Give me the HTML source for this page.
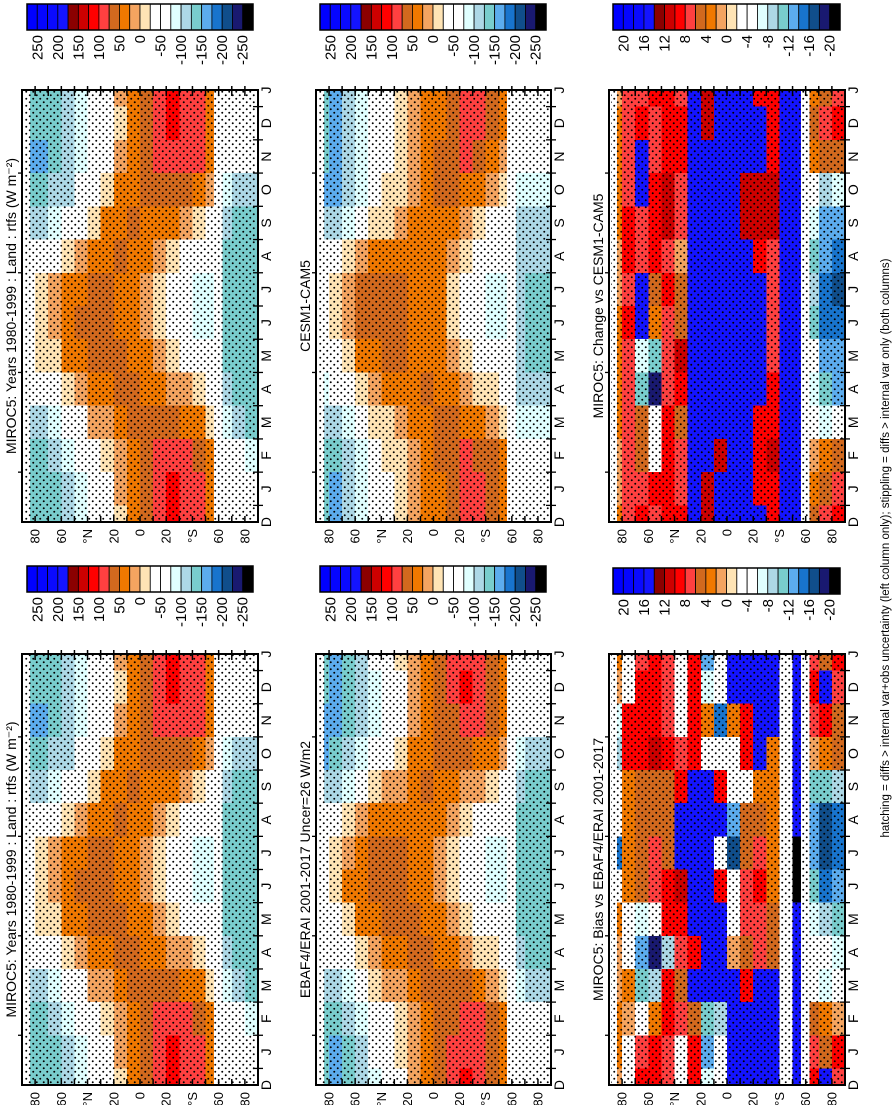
<!DOCTYPE html>
<html>
<head>
<meta charset="utf-8">
<style>
  html, body { margin:0; padding:0; background:#fff; }
  #page { position:relative; width:895px; height:1105px; overflow:hidden; background:#fff; }
  #fig { position:absolute; left:0; top:0; transform-origin:0 0; transform:translateY(1105px) rotate(-90deg); }
  text { font-family:"Liberation Sans", Arial, sans-serif; fill:#000; }
</style>
</head>
<body>
<div id="page">
<svg id="fig" width="1105" height="895" viewBox="0 0 1105 895" xmlns="http://www.w3.org/2000/svg">
  <defs>
    <pattern id="stip" width="7" height="7" patternUnits="userSpaceOnUse">
      <circle cx="1.75" cy="1.75" r="0.95" fill="#000"/>
      <circle cx="5.25" cy="5.25" r="0.95" fill="#000"/>
    </pattern>
  </defs>
  <g id="root"></g>
  <text x="557" y="889" font-size="11.5" text-anchor="middle">hatching = diffs &gt; internal var+obs uncertainty (left column only); stippling = diffs &gt; internal var only (both columns)</text>
</svg>
</div>
<script>
// ---- data ----
const monthLabels = ['D','J','F','M','A','M','J','J','A','S','O','N','D','J'];
const latEdges = [90,84,80,70,60,50,40,30,20,10,0,-10,-20,-30,-40,-50,-56,-63,-70,-80,-90];
const latTickValues = [80,60,40,20,0,-20,-40,-60,-80];
const latTickLabels = ['80','60','°N','20','0','20','°S','60','80'];
const fluxBarLabels = ['250','200','150','100','50','0','-50','-100','-150','-200','-250'];
const diffBarLabels = ['20','16','12','8','4','0','-4','-8','-12','-16','-20'];

// rows: J..D ; columns: lat bins per latEdges (null = no land)
const mirocValues = [
[null,-140,-140,-130,-110,-85,-50,-30,10,30,60,90,110,100,85,50,null,-40,-40,-40],
[null,-140,-140,-110,-85,-50,-30,-10,20,40,60,90,90,85,60,30,null,-60,-60,-85],
[null,-110,-110,-85,-50,-30,10,20,40,60,60,60,60,50,30,0,null,-85,-110,-130],
[null,-60,-60,-40,0,20,40,50,60,60,50,30,20,10,-10,-30,null,-110,-140,-140],
[null,-30,-20,0,30,50,60,60,60,50,30,10,-10,-30,-40,-60,null,-130,-140,-140],
[null,-30,0,20,40,60,60,60,50,40,20,0,-40,-60,-80,-80,null,-140,-140,-140],
[null,-40,-10,10,30,50,60,60,50,40,20,0,-30,-50,-80,-80,null,-140,-140,-140],
[null,-60,-50,-30,0,20,40,50,60,50,30,10,0,-30,-40,-60,null,-130,-140,-140],
[null,-100,-100,-85,-50,-30,0,30,50,60,50,40,30,10,0,-30,null,-110,-130,-140],
[null,-140,-140,-120,-100,-60,-30,0,30,50,60,60,60,60,40,10,null,-85,-100,-110],
[null,-150,-160,-130,-110,-85,-50,-30,10,40,60,85,90,90,80,40,null,-50,-60,-60],
[null,-140,-140,-130,-110,-90,-50,-40,0,30,60,90,110,100,85,50,null,-40,-40,-40]
];
const cesmValues = [
[null,-130,-160,-120,-90,-50,-30,-10,10,30,50,70,90,80,60,40,null,-30,-30,-30],
[null,-130,-140,-110,-80,-45,-20,0,20,40,55,65,85,70,55,30,null,-40,-40,-40],
[null,-110,-110,-90,-50,-20,0,10,30,50,55,55,50,40,20,0,null,-85,-90,-90],
[null,-80,-60,-40,-10,10,30,40,45,55,50,30,15,0,-20,-30,null,-110,-110,-110],
[null,-45,-30,0,30,40,55,55,50,50,40,10,-20,-40,-60,-60,null,-120,-130,-130],
[null,-40,-20,20,60,60,60,55,45,45,30,0,-40,-60,-90,-85,null,-110,-130,-130],
[null,-45,-20,20,60,60,60,55,45,45,30,0,-30,-60,-90,-85,null,-110,-130,-130],
[null,-60,-50,-20,10,30,40,45,45,50,35,10,-10,-40,-60,-60,null,-110,-120,-120],
[null,-110,-110,-80,-40,-20,0,20,40,50,50,30,10,0,-30,-40,null,-100,-110,-110],
[null,-160,-150,-110,-80,-50,-20,0,20,50,55,55,50,40,20,0,null,-85,-90,-90],
[null,-140,-160,-120,-90,-60,-40,-20,10,40,55,65,80,60,40,20,null,-40,-50,-50],
[null,-130,-160,-120,-90,-50,-30,-15,10,30,50,70,90,80,60,40,null,-30,-30,-30]
];
const ebafValues = [
[null,-140,-150,-130,-100,-70,-40,-20,10,30,55,80,100,90,70,40,null,-30,-40,-40],
[null,-140,-140,-110,-85,-50,-25,-5,20,45,60,70,90,80,55,30,null,-50,-50,-60],
[null,-110,-110,-85,-50,-20,5,20,40,55,60,55,55,40,20,0,null,-85,-100,-110],
[null,-70,-60,-40,-5,20,40,45,55,55,50,30,15,0,-20,-30,null,-110,-130,-130],
[null,-40,-25,0,30,50,60,60,55,50,35,10,-20,-40,-50,-60,null,-130,-140,-140],
[null,-30,0,30,50,60,65,60,50,45,25,0,-40,-60,-80,-80,null,-140,-140,-140],
[null,-40,-10,20,50,60,65,60,50,45,25,0,-30,-50,-80,-80,null,-140,-140,-140],
[null,-60,-50,-20,10,30,45,50,50,50,30,10,-5,-30,-50,-60,null,-130,-140,-140],
[null,-110,-110,-80,-45,-20,5,25,45,55,50,35,20,5,-20,-40,null,-110,-130,-130],
[null,-150,-140,-120,-90,-55,-25,0,30,50,60,60,55,50,30,10,null,-85,-100,-110],
[null,-150,-150,-130,-100,-75,-45,-25,10,40,60,75,90,80,60,30,null,-50,-60,-60],
[null,-140,-150,-130,-100,-80,-45,-30,5,30,60,85,105,95,70,40,null,-30,-40,-40]
];
const changeValues = [
[null,2,8,8,10,10,8,16,12,16,16,16,10,10,16,16,null,4,6,8],
[null,2,8,6,-3,10,8,16,16,12,16,16,10,12,16,16,null,2,4,6],
[null,3,8,6,-4,10,6,16,16,16,16,16,10,10,16,16,null,-2,-6,-4],
[null,3,8,-10,-18,8,10,16,16,16,16,16,16,10,16,16,null,-6,-10,-12],
[null,4,8,-6,-10,8,12,16,16,16,16,16,16,8,16,16,null,-4,-12,-12],
[null,4,10,16,4,8,6,16,16,16,16,16,16,8,16,16,null,-10,-14,-14],
[null,2,8,16,6,10,6,16,16,16,16,16,16,8,16,16,null,-8,-14,-16],
[null,2,10,8,10,8,2,16,16,16,16,16,10,8,16,16,null,-10,-12,-14],
[null,3,10,8,10,12,8,16,16,16,16,12,12,12,16,16,null,-6,-12,-12],
[null,3,8,16,10,12,8,16,16,16,16,12,12,12,16,16,null,-4,-8,-6],
[null,4,8,16,8,10,10,16,16,16,16,16,16,10,16,16,null,4,6,6],
[null,3,8,10,8,10,10,16,12,16,16,16,16,10,16,16,null,6,8,10]
];
const biasValues = [
[null,4,-4,8,10,8,-3,10,-12,-3,16,16,16,16,-3,16,null,8,6,10],
[null,4,2,-3,4,10,8,6,-10,-8,16,16,16,16,-3,16,null,6,4,2],
[null,2,4,-10,-8,10,6,16,16,16,16,10,16,16,-3,16,null,-4,-6,-4],
[null,2,-3,-12,-18,-8,8,10,16,16,2,6,8,6,-3,16,null,-4,-3,-6],
[null,4,-3,-6,-3,10,10,16,16,16,-3,8,8,6,-3,16,null,-6,-8,-10],
[null,-3,4,6,8,10,12,16,16,10,-3,8,10,4,-3,-20,null,-10,-14,-12],
[null,-14,4,6,8,6,16,16,16,-3,-16,6,8,4,-3,-20,null,-12,-16,-14],
[null,-3,4,6,6,6,16,16,16,16,-12,6,6,4,-3,16,null,-12,-16,-14],
[null,-4,4,6,6,6,10,16,16,10,-3,-3,4,4,-3,16,null,-10,-10,-8],
[null,-8,10,10,12,10,8,10,-4,-4,-3,10,16,4,-3,16,null,2,4,6],
[null,-6,10,10,10,8,-3,10,4,-14,4,10,16,16,-3,16,null,8,10,6],
[null,2,-3,10,10,8,-3,10,-6,-4,16,16,16,16,-3,16,null,10,16,8]
];

// ---- styling ----
const palette = ['#0000ff','#0505ff','#0a0aff','#1414ff','#8b0000','#cd0000','#ff0000','#ff4040',
 '#d2691e','#f07800','#f4a460','#ffe4b5','#ffffff','#ffffff','#e0ffff','#add8e6',
 '#79cdcd','#5cacee','#1874cd','#104e8b','#191970','#000000'];
const NS = 'http://www.w3.org/2000/svg';
const root = document.getElementById('root');
function mk(tag, attrs, parent){
  const e = document.createElementNS(NS, tag);
  for (const k in attrs) e.setAttribute(k, attrs[k]);
  (parent||root).appendChild(e);
  return e;
}
function colorFor(v, top, step){
  let i = Math.floor((top - v)/step);
  if (i < 0) i = 0; if (i > 21) i = 21;
  return palette[i];
}

const panels = [
  {id:'miroc-climatology-2', title:'MIROC5: Years 1980-1999 : Land : rtfs (W m\u207B\u00B2)', data:mirocValues, x0:20, x1:451, y0:22, y1:258, top:275, step:25, bar:fluxBarLabels, bx:513, by0:27, by1:253},
  {id:'miroc-climatology', title:'MIROC5: Years 1980-1999 : Land : rtfs (W m\u207B\u00B2)', data:mirocValues, x0:583, x1:1015, y0:22, y1:258, top:275, step:25, bar:fluxBarLabels, bx:1075, by0:27, by1:253},
  {id:'ebaf-observations', title:'EBAF4/ERAI 2001-2017 Uncer=26 W/m2', data:ebafValues, x0:20, x1:451, y0:316, y1:551, top:275, step:25, bar:fluxBarLabels, bx:513, by0:320, by1:546},
  {id:'cesm-climatology', title:'CESM1-CAM5', data:cesmValues, x0:583, x1:1015, y0:316, y1:551, top:275, step:25, bar:fluxBarLabels, bx:1075, by0:320, by1:546},
  {id:'miroc-bias', title:'MIROC5: Bias vs EBAF4/ERAI 2001-2017', data:biasValues, x0:20, x1:451, y0:609, y1:845, top:22, step:2, bar:diffBarLabels, bx:511, by0:613, by1:840},
  {id:'miroc-change', title:'MIROC5: Change vs CESM1-CAM5', data:changeValues, x0:583, x1:1015, y0:609, y1:845, top:22, step:2, bar:diffBarLabels, bx:1075, by0:613, by1:840}
];

panels.forEach((p, pi) => {
  const g = mk('g', {});
  
  
  const W = p.x1 - p.x0, H = p.y1 - p.y0;
  const nM = monthLabels.length - 1;
  const xOf = k => p.x0 + k * W / nM;
  const yOf = lat => p.y0 + (90 - lat) * H / 180;
  const clipId = 'clip' + pi;
  const cp = mk('clipPath', {id: clipId}, g);
  mk('rect', {x:p.x0, y:p.y0, width:W, height:H}, cp);
  const cells = mk('g', {'clip-path':'url(#' + clipId + ')', 'shape-rendering':'crispEdges'}, g);
  
  
  mk('rect', {x:p.x0, y:p.y0, width:W, height:H, fill:'#fff'}, cells);
  for (let k = 0; k < monthLabels.length; k++) {
    const m = (k + 11) % 12;
    const row = p.data[m];
    for (let j = 0; j < latEdges.length - 1; j++) {
      const v = row[j];
      if (v === null) continue;
      const ya = yOf(latEdges[j]), yb = yOf(latEdges[j+1]);
      const r = mk('rect', {x:(xOf(k - 0.5)).toFixed(2), y:ya.toFixed(2), width:(W/nM + 0.6).toFixed(2), height:(yb - ya + 0.4).toFixed(2), fill:colorFor(v, p.top, p.step)}, cells);
      
      
    }
  }
  const st = mk('rect', {x:p.x0, y:p.y0 + 2, width:W, height:H - 4, fill:'url(#stip)'}, cells);
  
  
  // frame
  const fr = mk('rect', {x:p.x0, y:p.y0, width:W, height:H, fill:'none', stroke:'#000', 'stroke-width':2}, g);
  
  
  // lat ticks every 10 deg
  for (let lat = 80; lat >= -80; lat -= 10) {
    const y = yOf(lat);
    mk('line', {x1:p.x0, x2:p.x0 + 6, y1:y, y2:y, stroke:'#000', 'stroke-width':1.5}, g);
    mk('line', {x1:p.x1 - 6, x2:p.x1 + 4, y1:y, y2:y, stroke:'#000', 'stroke-width':1.5}, g);
  }
  latTickValues.forEach((lat, i) => {
    const t = mk('text', {x:p.x0 - 7, y:(yOf(lat) + 4.5).toFixed(1), 'font-size':13, 'text-anchor':'end'}, g);
    t.textContent = latTickLabels[i];
    
    
  });
  // month ticks and labels
  for (let k = 0; k < nM; k++) {
    const x = xOf(k + 0.5);
    mk('line', {x1:x, x2:x, y1:p.y1 - 5, y2:p.y1 + 5, stroke:'#000', 'stroke-width':1.3}, g);
    if (k % 3 === 1) mk('line', {x1:x, x2:x, y1:p.y0 - 4, y2:p.y0, stroke:'#000', 'stroke-width':1.3}, g);
  }
  monthLabels.forEach((ml, k) => {
    const t = mk('text', {x:xOf(k).toFixed(1), y:p.y1 + 13, 'font-size':14, 'text-anchor':'middle'}, g);
    t.textContent = ml;
    
    
  });
  // title
  const tt = mk('text', {x:(p.x0 + p.x1)/2, y:p.y0 - 6, 'font-size':14, 'text-anchor':'middle'}, g);
  tt.textContent = p.title;
  
  
  // colorbar
  const cb = mk('g', {}, g);
  
  
  const bh = (p.by1 - p.by0) / palette.length;
  palette.forEach((c, i) => {
    mk('rect', {x:p.bx, y:(p.by0 + i*bh).toFixed(2), width:26, height:bh.toFixed(2), fill:c, stroke:'#000', 'stroke-width':0.8}, cb);
  });
  mk('rect', {x:p.bx, y:p.by0, width:26, height:p.by1 - p.by0, fill:'none', stroke:'#000', 'stroke-width':1.5}, cb);
  p.bar.forEach((lab, i) => {
    const t = mk('text', {x:p.bx - 5, y:(p.by0 + (2*i + 1)*bh + 5).toFixed(1), 'font-size':15, 'text-anchor':'end'}, cb);
    t.textContent = lab;
    
    
  });
});
</script>
</body>
</html>
